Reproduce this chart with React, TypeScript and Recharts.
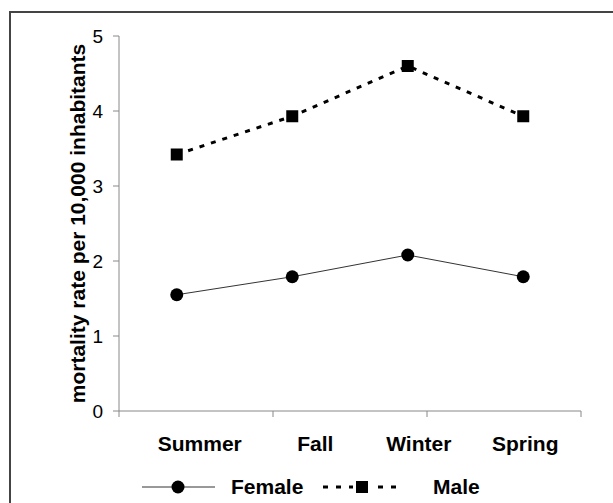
import { LineChart, Line, XAxis, YAxis, Legend, Label } from 'recharts';

const seasons = ['Summer', 'Fall', 'Winter', 'Spring'];
const femaleRates = [1.55, 1.79, 2.08, 1.79];
const maleRates = [3.42, 3.93, 4.6, 3.93];
const yTicks = [0, 1, 2, 3, 4, 5];
const boundaryTicks = [0, 1, 2, 3, 4];

const data = seasons.map((season, i) => ({
  season,
  female: femaleRates[i],
  male: maleRates[i],
}));

const FONT = '"Liberation Sans", Arial, sans-serif';
// the labels in the source sit a bit right of the category centres
const labelShift = [23, 23, 11, 2];

function SquareDot(props: any) {
  const { cx, cy } = props;
  if (cx == null || cy == null) return null;
  return <rect x={cx - 6} y={cy - 6} width={12} height={12} fill="#000" />;
}

function NoLabel() {
  return <g />;
}

function SeasonTick(props: any) {
  const { x, y, payload, index } = props;
  return (
    <text
      x={x + (labelShift[index] ?? 0)}
      y={y + 31}
      textAnchor="middle"
      fontFamily={FONT}
      fontSize={21}
      fontWeight="bold"
      fill="#000"
    >
      {payload.value}
    </text>
  );
}

function YTitle(props: any) {
  const vb = props.viewBox || { x: 0, y: 36, width: 119, height: 375 };
  const cx = 85;
  const cy = vb.y + vb.height / 2;
  return (
    <text
      x={cx}
      y={cy}
      transform={`rotate(-90, ${cx}, ${cy})`}
      textAnchor="middle"
      fontFamily={FONT}
      fontSize={21}
      fontWeight="bold"
      fill="#000"
    >
      mortality rate per 10,000 inhabitants
    </text>
  );
}

function LegendBox() {
  return (
    <svg width={613} height={35} style={{ display: 'block' }}>
      <line x1={142} y1={19} x2={215} y2={19} stroke="#333" strokeWidth={1} />
      <circle cx={178} cy={19} r={6.5} fill="#000" />
      <text x={231} y={26} fontFamily={FONT} fontSize={21} fontWeight="bold" fill="#000">
        Female
      </text>
      <line x1={323} y1={19} x2={353} y2={19} stroke="#000" strokeWidth={3} strokeDasharray="5 8" />
      <line x1={378} y1={19} x2={402} y2={19} stroke="#000" strokeWidth={3} strokeDasharray="5 8" />
      <rect x={356} y={13} width={12} height={12} fill="#000" />
      <text x={433} y={26} fontFamily={FONT} fontSize={21} fontWeight="bold" fill="#000">
        Male
      </text>
    </svg>
  );
}

export default function App() {
  return (
    <div
      style={{
        position: 'absolute',
        left: 0,
        top: 0,
        width: 613,
        height: 503,
        background: '#fff',
        overflow: 'hidden',
      }}
    >
      <div
        style={{
          position: 'absolute',
          left: 9,
          top: 11,
          width: 640,
          height: 540,
          border: '2px solid #444',
        }}
      />
      <LineChart
        width={613}
        height={503}
        data={data}
        margin={{ top: 36, right: 32, bottom: 0, left: 0 }}
        style={{ position: 'absolute', left: 0, top: 0 }}
      >
        <XAxis
          xAxisId={0}
          type="number"
          domain={[0, 4]}
          ticks={boundaryTicks}
          allowDataOverflow
          tick={<NoLabel />}
          tickLine={{ stroke: '#888' }}
          height={1}
          stroke="#888"
          tickSize={6}
        />
        <XAxis
          xAxisId="season"
          dataKey="season"
          scale="band"
          height={56}
          axisLine={false}
          tickLine={false}
          tickSize={6}
          tickMargin={2}
          tick={<SeasonTick />}
          interval={0}
        />
        <YAxis
          domain={[0, 5]}
          ticks={yTicks}
          width={119}
          stroke="#888"
          tickSize={6}
          tickMargin={10}
          tick={{ fill: '#000', fontSize: 19, fontFamily: FONT }}
          interval={0}
        >
          <Label content={<YTitle />} />
        </YAxis>
        <Legend verticalAlign="bottom" height={35} content={<LegendBox />} wrapperStyle={{ left: 0, width: 613 }} />
        <Line
          xAxisId="season"
          dataKey="female"
          name="Female"
          stroke="#333"
          strokeWidth={1}
          dot={{ r: 6.5, fill: '#000', stroke: 'none' }}
          activeDot={false}
          isAnimationActive={false}
        />
        <Line
          xAxisId="season"
          dataKey="male"
          name="Male"
          stroke="#000"
          strokeWidth={3}
          strokeDasharray="5 7"
          dot={<SquareDot />}
          activeDot={false}
          isAnimationActive={false}
        />
      </LineChart>
    </div>
  );
}
